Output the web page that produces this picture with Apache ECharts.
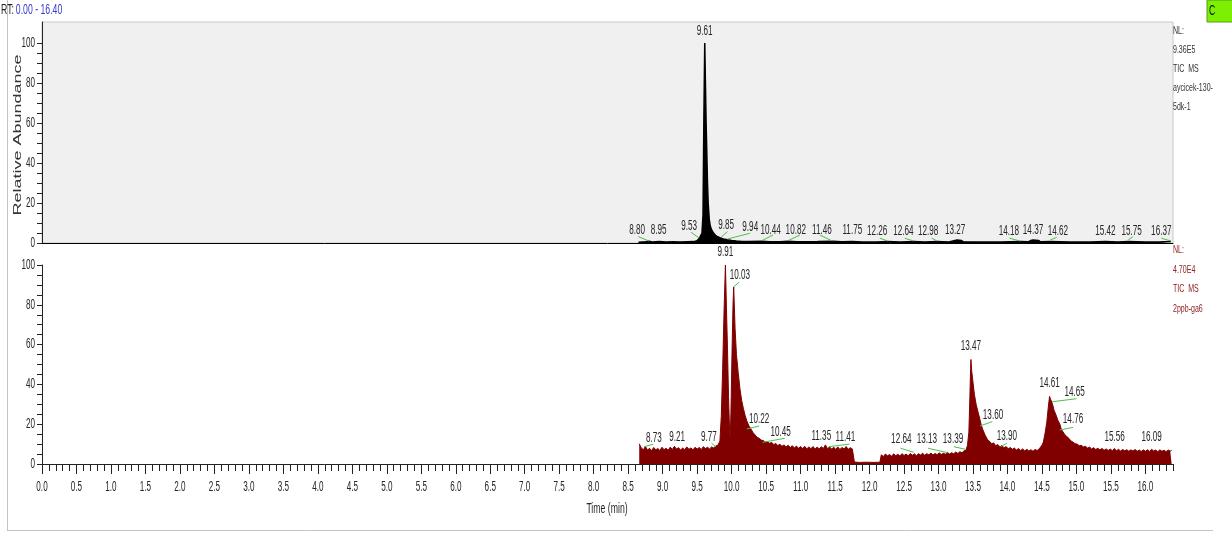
<!DOCTYPE html>
<html>
<head>
<meta charset="utf-8">
<script src="https://cdn.jsdelivr.net/npm/echarts@6/dist/echarts.min.js"></script>
<style>
  html, body { margin: 0; padding: 0; background: #ffffff; }
  #chart { width: 1232px; height: 533px; }
</style>
</head>
<body>
<div id="chart"></div>
<script>
// ---- Chromatogram data: [retention time (min), relative abundance (%)] ----

// TIC MS, aycicek-130-5dk-1 (NL 9.36E5)
const topTrace = [
  [8.65,0.4],[8.75,0.6],[8.80,0.9],[8.85,0.5],[8.95,0.7],[9.05,0.5],[9.15,0.6],[9.25,0.5],
  [9.35,0.6],[9.45,0.7],[9.50,1.2],[9.53,2.2],[9.555,2.8],[9.57,5],[9.585,14],[9.598,64],
  [9.61,100],[9.62,80],[9.63,60],[9.64,45],[9.65,30],[9.66,20],[9.675,12],[9.69,8.5],
  [9.71,6.5],[9.74,4.8],[9.78,3.4],[9.83,2.6],[9.88,2.0],[9.94,1.6],[10.00,1.3],[10.07,1.0],
  [10.15,0.8],[10.25,0.7],[10.44,0.9],[10.55,0.6],[10.70,0.6],[10.82,0.9],[10.95,0.6],
  [11.10,0.6],[11.25,0.7],[11.46,0.9],[11.60,0.6],[11.75,0.8],[11.90,0.5],[12.10,0.5],
  [12.26,0.7],[12.45,0.5],[12.64,0.7],[12.80,0.5],[12.98,0.7],[13.15,0.5],[13.24,1.3],
  [13.27,1.5],[13.33,1.3],[13.36,0.6],[13.60,0.5],[13.90,0.5],[14.18,0.7],[14.30,0.6],
  [14.34,1.3],[14.37,1.5],[14.45,1.3],[14.48,0.6],[14.62,0.8],[14.90,0.5],[15.20,0.5],
  [15.42,0.7],[15.60,0.5],[15.75,0.7],[16.00,0.5],[16.20,0.5],[16.37,0.7]
];

// TIC MS, 2ppb-ga6 (NL 4.70E4)
const bottomTrace = [
  [8.66,10.2],[8.69,8.1],[8.72,7.2],[8.75,8.8],[8.78,7.0],[8.81,7.9],[8.84,6.7],[8.87,8.3],
  [8.90,7.1],[8.93,7.8],[8.96,6.8],[8.99,8.4],[9.02,7.2],[9.05,7.9],[9.08,6.9],[9.11,8.5],
  [9.14,7.3],[9.17,8.9],[9.20,7.5],[9.23,8.2],[9.26,7.0],[9.29,8.0],[9.32,7.2],[9.35,8.6],
  [9.38,7.4],[9.41,8.1],[9.44,7.1],[9.47,8.4],[9.50,7.5],[9.53,8.3],[9.56,7.3],[9.59,8.7],
  [9.62,7.8],[9.65,8.4],[9.68,7.6],[9.71,8.6],[9.74,8.0],[9.77,9.1],[9.80,9.4],
  [9.83,11.5],[9.85,24],[9.87,48],[9.89,77],[9.91,100],[9.925,78],[9.94,58],[9.955,34],
  [9.97,17],[9.98,13],[9.99,26],[10.005,55],[10.02,80],[10.03,89],[10.05,68],[10.07,55],
  [10.095,46],[10.12,38],[10.145,32],[10.17,28],[10.195,24.5],[10.22,21.7],[10.25,19.2],
  [10.28,17.6],[10.31,15.8],[10.34,14.6],[10.37,13.4],[10.40,12.9],[10.43,12.0],[10.46,11.8],
  [10.49,11.0],[10.52,11.3],[10.55,10.4],[10.58,10.9],[10.61,9.8],[10.64,10.3],[10.67,9.3],
  [10.70,9.9],[10.73,8.9],[10.76,9.6],[10.79,8.6],[10.82,9.4],[10.85,8.3],[10.88,9.2],
  [10.91,8.1],[10.94,9.0],[10.97,7.9],[11.00,8.8],[11.03,7.8],[11.06,8.9],[11.09,7.6],
  [11.12,8.6],[11.15,7.7],[11.18,8.8],[11.21,7.5],[11.24,8.5],[11.27,7.6],[11.30,8.7],
  [11.33,7.8],[11.36,9.6],[11.39,7.7],[11.42,8.6],[11.45,7.5],[11.48,8.4],[11.51,7.4],
  [11.54,8.6],[11.57,7.3],[11.60,8.3],[11.63,7.5],[11.66,8.8],[11.69,7.4],[11.72,8.2],
  [11.75,7.6],[11.775,8.0],
  [11.78,1.0],[11.85,0.8],[11.95,0.9],[12.05,0.8],[12.15,0.9],
  [12.17,4.6],[12.20,3.8],[12.23,5.0],[12.26,4.1],[12.29,4.8],[12.32,3.9],[12.35,5.1],
  [12.38,4.2],[12.41,4.9],[12.44,4.0],[12.47,5.2],[12.50,4.3],[12.53,5.0],[12.56,4.1],
  [12.59,5.3],[12.62,4.4],[12.65,5.1],[12.68,4.2],[12.71,5.2],[12.74,4.5],[12.77,5.4],
  [12.80,4.4],[12.83,5.2],[12.86,4.6],[12.89,5.5],[12.92,4.5],[12.95,5.3],[12.98,4.7],
  [13.01,5.6],[13.04,4.8],[13.07,5.4],[13.10,4.9],[13.13,5.8],[13.16,5.0],[13.19,5.7],
  [13.22,5.1],[13.25,6.0],[13.28,5.3],[13.31,6.2],[13.34,5.6],[13.37,6.6],[13.40,7.0],
  [13.42,9.5],[13.44,16],[13.455,34],[13.465,48],[13.47,52.5],[13.48,47],[13.50,41],
  [13.52,35],[13.545,30],[13.57,26.5],[13.60,22.5],[13.62,19.5],[13.64,17.5],[13.66,15.8],
  [13.68,14.2],[13.71,12.3],[13.74,11.4],[13.77,10.2],[13.80,10.6],[13.83,9.2],[13.86,9.8],
  [13.89,8.6],[13.92,9.3],[13.95,8.1],[13.98,8.8],[14.01,7.7],[14.04,8.3],[14.07,7.4],
  [14.10,8.0],[14.13,7.0],[14.16,7.8],[14.19,6.8],[14.22,7.6],[14.25,6.6],[14.28,7.4],
  [14.31,6.5],[14.34,7.2],[14.37,6.4],[14.40,7.3],[14.43,6.8],[14.46,7.6],[14.48,8.2],
  [14.50,9.5],[14.52,11],[14.545,15.5],[14.57,21],[14.59,28],[14.605,32.5],[14.61,34],
  [14.625,32.5],[14.65,30.5],[14.675,27],[14.70,25],[14.73,22],[14.76,20],[14.78,17.5],
  [14.80,16.5],[14.83,14.8],[14.86,13.8],[14.89,12.9],[14.92,11.6],[14.95,11.0],[14.98,10.2],
  [15.01,10.0],[15.04,9.2],[15.07,9.4],[15.10,8.6],[15.13,8.9],[15.16,8.0],[15.19,8.5],
  [15.22,7.6],[15.25,8.2],[15.28,7.3],[15.31,7.9],[15.34,7.1],[15.37,7.8],[15.40,6.9],
  [15.43,7.6],[15.46,6.8],[15.49,7.5],[15.52,6.7],[15.55,7.8],[15.58,6.6],[15.61,7.4],
  [15.64,6.5],[15.67,7.3],[15.70,6.6],[15.73,7.2],[15.76,6.4],[15.79,7.1],[15.82,6.5],
  [15.85,7.3],[15.88,6.4],[15.91,7.0],[15.94,6.3],[15.97,7.1],[16.00,6.4],[16.03,7.2],
  [16.06,6.3],[16.09,7.4],[16.12,6.5],[16.15,7.0],[16.18,6.2],[16.21,7.1],[16.24,6.4],
  [16.27,6.9],[16.30,6.2],[16.33,7.0],[16.36,6.5],[16.38,6.8]
];

// Peak annotations: [RT, level at peak, label time, label level, leader end time, leader end level]
const topPeaks = [
  [9.61, 100, 9.61, 106, null, null],
  [8.80, 1, 8.63, 6.5, 8.646, 3.2],
  [8.95, 1, 8.94, 6.5, null, null],
  [9.53, 2.5, 9.385, 8.5, 9.41, 5.4],
  [9.85, 3, 9.92, 8.7, 9.94, 5.7],
  [9.94, 2, 10.27, 7.9, 10.27, 4.9],
  [10.44, 1.2, 10.565, 6.5, 10.60, 4],
  [10.82, 1.2, 10.93, 6.5, 10.99, 4],
  [11.46, 1, 11.31, 6.5, 11.28, 4],
  [11.75, 1, 11.75, 6.5, null, null],
  [12.26, 1, 12.11, 5.7, 12.15, 2.4],
  [12.64, 1, 12.49, 5.7, 12.51, 2.4],
  [12.98, 1, 12.85, 5.7, 12.90, 2.4],
  [13.27, 1.5, 13.24, 6.2, null, null],
  [14.18, 1, 14.02, 5.7, 14.03, 2.4],
  [14.37, 1.5, 14.37, 6.2, null, null],
  [14.62, 1.5, 14.73, 5.7, 14.715, 2.85],
  [15.42, 1, 15.42, 5.7, null, null],
  [15.75, 1.5, 15.80, 5.7, 15.82, 3.2],
  [16.37, 1, 16.23, 5.7, 16.23, 2.4]
];

const bottomPeaks = [
  [9.91, 100, 9.91, 106.5, null, null],
  [8.73, 8.7, 8.874, 13.2, 8.864, 9.9],
  [9.21, 8, 9.21, 13.7, null, null],
  [9.77, 8.7, 9.67, 13.7, 9.71, 10.4],
  [10.03, 89, 10.12, 95, 10.107, 91.3],
  [10.22, 17.6, 10.40, 22.6, 10.40, 19.1],
  [10.45, 10.9, 10.71, 15.9, 10.77, 12.9],
  [11.35, 8, 11.30, 14.2, null, null],
  [11.41, 8.7, 11.65, 13.7, 11.71, 10],
  [12.64, 5.9, 12.46, 12.4, 12.45, 7.9],
  [13.13, 5.7, 12.83, 12.4, 12.85, 7.9],
  [13.39, 7.4, 13.21, 12.7, 13.22, 8.7],
  [13.47, 52.5, 13.47, 59, null, null],
  [13.60, 19.1, 13.79, 24.6, 13.78, 21.3],
  [13.90, 8.7, 13.99, 14.1, 13.99, 10.4],
  [14.61, 34, 14.61, 40.6, null, null],
  [14.65, 31.3, 14.975, 36.2, 15.0, 32.8],
  [14.76, 17.1, 14.95, 22.5, 14.95, 18.4],
  [15.56, 7, 15.555, 13.7, null, null],
  [16.09, 7, 16.09, 13.7, null, null]
];

// Axis ticks
const timeTicks = [0.0,0.5,1.0,1.5,2.0,2.5,3.0,3.5,4.0,4.5,5.0,5.5,6.0,6.5,7.0,7.5,8.0,
                   8.5,9.0,9.5,10.0,10.5,11.0,11.5,12.0,12.5,13.0,13.5,14.0,14.5,15.0,15.5,16.0];
const abundanceTicks = [0, 20, 40, 60, 80, 100];
const RT_RANGE = [0.00, 16.40];

// ---- Layout & styling ----
const FONT = "'Liberation Sans', Arial, sans-serif";
const SQUEEZE = 0.58;          // horizontal condensing of all annotation text
const TEXT = '#262626';
const TOP_COLOR = '#000000';
const BOTTOM_COLOR = '#800000';
const LEADER = '#4cc04c';

const minorTimeTicks = [];
for (let i = 0; i <= Math.round(RT_RANGE[1] * 10); i++) {
  if (i % 5 !== 0) minorTimeTicks.push(i / 10);
}
const minorAbundanceTicks = [];
for (let v = 0; v <= 100; v += 5) minorAbundanceTicks.push(v);

function leaderData(peaks) {
  return peaks.filter(p => p[4] !== null).map(p => ({ coords: [[p[0], p[1]], [p[4], p[5]]] }));
}

// condensed text placed at a data coordinate (+ pixel offset)
function condensedText(x, y, text, opts) {
  return {
    type: 'text', x: x, y: y, scaleX: SQUEEZE,
    style: Object.assign({ text: text, fill: TEXT, fontSize: 14, fontFamily: FONT,
                           align: 'center', verticalAlign: 'middle' }, opts || {})
  };
}

function peakLabelSeries(peaks, axisIndex) {
  return {
    type: 'custom', xAxisIndex: axisIndex, yAxisIndex: axisIndex, silent: true, clip: false, z: 6,
    data: peaks.map(p => [p[2], p[3], p[0]]),
    renderItem: (params, api) => {
      const pt = api.coord([api.value(0), api.value(1)]);
      return condensedText(pt[0], pt[1], api.value(2).toFixed(2));
    }
  };
}

function timeLabelSeries() {
  return {
    type: 'custom', xAxisIndex: 1, yAxisIndex: 1, silent: true, clip: false, z: 6,
    data: timeTicks.map(t => [t, 0]),
    renderItem: (params, api) => {
      const pt = api.coord([api.value(0), 0]);
      return condensedText(pt[0], pt[1] + 23, api.value(0).toFixed(1));
    }
  };
}

function abundanceLabelSeries(axisIndex) {
  return {
    type: 'custom', xAxisIndex: axisIndex, yAxisIndex: axisIndex, silent: true, clip: false, z: 6,
    data: abundanceTicks.map(v => [RT_RANGE[0], v]),
    renderItem: (params, api) => {
      const pt = api.coord([RT_RANGE[0], api.value(1)]);
      return condensedText(pt[0] - 7, pt[1], String(api.value(1)), { align: 'right' });
    }
  };
}

const yAxisCommon = {
  type: 'value',
  min: 0,
  axisLine: { show: true, lineStyle: { color: '#222', width: 1 } },
  axisTick: { show: true, length: 5, customValues: minorAbundanceTicks, lineStyle: { color: '#222' } },
  axisLabel: { show: false },
  splitLine: { show: false }
};

const chart = echarts.init(document.getElementById('chart'), null, { renderer: 'canvas' });

chart.setOption({
  animation: false,
  backgroundColor: '#ffffff',
  grid: [
    { left: 42, right: 59, top: 22, height: 221, show: true, outerBoundsMode: 'none', containLabel: false,
      backgroundColor: '#f0f0f0', borderColor: '#c8c8c8', borderWidth: 1 },
    { left: 42, right: 59, top: 265, height: 199, show: false, outerBoundsMode: 'none', containLabel: false }
  ],
  xAxis: [
    { type: 'value', gridIndex: 0, min: RT_RANGE[0], max: RT_RANGE[1],
      axisLine: { show: true, onZero: false, lineStyle: { color: '#000', width: 1 } },
      axisTick: { show: false }, axisLabel: { show: false }, splitLine: { show: false } },
    { type: 'value', gridIndex: 1, min: RT_RANGE[0], max: RT_RANGE[1], position: 'bottom',
      axisLine: { show: true, onZero: false, lineStyle: { color: '#222', width: 1 } },
      axisTick: { show: true, length: 10, customValues: timeTicks, lineStyle: { color: '#222' } },
      axisLabel: { show: false }, splitLine: { show: false } },
    { type: 'value', gridIndex: 1, min: RT_RANGE[0], max: RT_RANGE[1], position: 'bottom',
      axisLine: { show: false, onZero: false },
      axisTick: { show: true, length: 7, customValues: minorTimeTicks, lineStyle: { color: '#222' } },
      axisLabel: { show: false }, splitLine: { show: false } }
  ],
  yAxis: [
    Object.assign({}, yAxisCommon, { gridIndex: 0, max: 110.5 }),
    Object.assign({}, yAxisCommon, { gridIndex: 1, max: 100 })
  ],
  series: [
    { type: 'line', name: 'aycicek-130-5dk-1', xAxisIndex: 0, yAxisIndex: 0, data: topTrace,
      showSymbol: false, symbol: 'none', sampling: null, clip: true,
      lineStyle: { color: TOP_COLOR, width: 1.5 }, areaStyle: { color: TOP_COLOR, opacity: 1 }, z: 3 },
    { type: 'line', name: '2ppb-ga6', xAxisIndex: 1, yAxisIndex: 1, data: bottomTrace,
      showSymbol: false, symbol: 'none', sampling: null, clip: true,
      lineStyle: { color: BOTTOM_COLOR, width: 1 }, areaStyle: { color: BOTTOM_COLOR, opacity: 1 }, z: 3 },
    { type: 'lines', coordinateSystem: 'cartesian2d', xAxisIndex: 0, yAxisIndex: 0,
      data: leaderData(topPeaks), lineStyle: { color: LEADER, width: 1, opacity: 1 }, silent: true, z: 4 },
    { type: 'lines', coordinateSystem: 'cartesian2d', xAxisIndex: 1, yAxisIndex: 1,
      data: leaderData(bottomPeaks), lineStyle: { color: LEADER, width: 1, opacity: 1 }, silent: true, z: 4 },
    peakLabelSeries(topPeaks, 0),
    peakLabelSeries(bottomPeaks, 1),
    timeLabelSeries(),
    abundanceLabelSeries(0),
    abundanceLabelSeries(1)
  ],
  graphic: [
    // outer frame
    { type: 'line', shape: { x1: 7.5, y1: 0, x2: 7.5, y2: 530 }, style: { stroke: '#c4c4c4', lineWidth: 1 }, silent: true },
    { type: 'line', shape: { x1: 7, y1: 530.5, x2: 1213, y2: 530.5 }, style: { stroke: '#c4c4c4', lineWidth: 1 }, silent: true },
    // range caption
    { type: 'text', x: 1, y: 10, scaleX: SQUEEZE, silent: true,
      style: { text: '{a|RT:} {b|0.00 - 16.40}', verticalAlign: 'middle', rich: {
        a: { fill: '#222', fontSize: 15, fontFamily: FONT },
        b: { fill: '#3a3ac8', fontSize: 15, fontFamily: FONT } } } },
    // vertical axis title
    { type: 'text', x: 18, y: 135, rotation: Math.PI / 2, scaleY: 0.62, silent: true,
      style: { text: 'Relative Abundance', fill: '#333', fontSize: 18, fontFamily: FONT,
               align: 'center', verticalAlign: 'middle' } },
    // horizontal axis title
    { type: 'text', x: 607, y: 509, scaleX: SQUEEZE, silent: true,
      style: { text: 'Time (min)', fill: TEXT, fontSize: 15, fontFamily: FONT,
               align: 'center', verticalAlign: 'middle' } },
    // corner badge
    { type: 'rect', shape: { x: 1207, y: 0, width: 30, height: 22 }, style: { fill: '#7cf000', stroke: '#5a9a20' }, silent: true },
    { type: 'text', x: 1209, y: 11, scaleX: SQUEEZE, silent: true,
      style: { text: 'C', fill: '#111', fontSize: 15, fontFamily: FONT, verticalAlign: 'middle' } },
    // trace info, upper plot
    { type: 'text', x: 1173, y: 21, scaleX: 0.64, silent: true,
      style: { text: 'NL:\n9.36E5\nTIC  MS\naycicek-130-\n5dk-1', fill: '#333', fontSize: 11,
               fontFamily: FONT, lineHeight: 19 } },
    // trace info, lower plot
    { type: 'text', x: 1173, y: 240, scaleX: 0.64, silent: true,
      style: { text: 'NL:\n4.70E4\nTIC  MS\n2ppb-ga6', fill: '#8b1c1c', fontSize: 11,
               fontFamily: FONT, lineHeight: 19.7 } }
  ]
});
</script>
</body>
</html>
